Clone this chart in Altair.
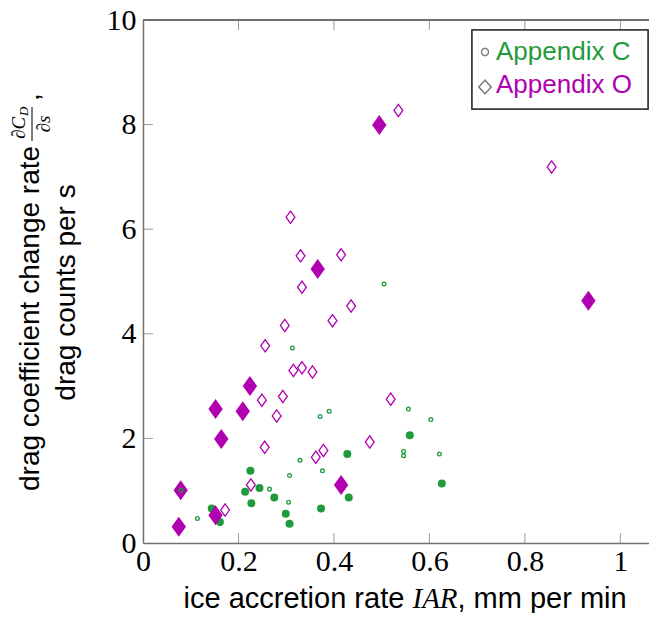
import altair as alt
import pandas as pd

# ---------------- data ----------------
c_filled_x = [0.225, 0.244, 0.214, 0.275, 0.227, 0.299, 0.307, 0.373, 0.161, 0.144, 0.559, 0.428, 0.431, 0.626]
c_filled_y = [1.38, 1.05, 0.98, 0.87, 0.76, 0.56, 0.37, 0.66, 0.40, 0.66, 2.06, 1.70, 0.87, 1.14]

c_hollow_x = [0.505, 0.313, 0.371, 0.390, 0.329, 0.307, 0.376, 0.265, 0.305, 0.114, 0.080, 0.556, 0.603, 0.546, 0.546, 0.621]
c_hollow_y = [4.95, 3.73, 2.42, 2.52, 1.58, 1.29, 1.38, 1.03, 0.78, 0.47, 1.01, 2.56, 2.36, 1.75, 1.67, 1.70]

o_filled_x = [0.224, 0.152, 0.209, 0.164, 0.079, 0.152, 0.075, 0.415, 0.495, 0.366, 0.933]
o_filled_y = [3.00, 2.56, 2.52, 1.99, 1.01, 0.53, 0.31, 1.11, 7.99, 5.24, 4.63]

o_hollow_x = [0.535, 0.309, 0.330, 0.415, 0.333, 0.436, 0.397, 0.297, 0.856, 0.256, 0.315, 0.333,
              0.355, 0.249, 0.293, 0.280, 0.255, 0.362, 0.378, 0.226, 0.172, 0.519, 0.475]
o_hollow_y = [8.27, 6.23, 5.49, 5.51, 4.89, 4.53, 4.25, 4.16, 7.19, 3.77, 3.30, 3.35,
              3.27, 2.73, 2.80, 2.43, 1.83, 1.64, 1.77, 1.11, 0.63, 2.75, 1.93]

x_ticks = [0, 0.2, 0.4, 0.6, 0.8, 1]
y_ticks = [0, 2, 4, 6, 8, 10]
legend_labels = ["Appendix C", "Appendix O"]

x_title_parts = ["ice accretion rate ", "IAR", ", mm per min"]
y_title_line1 = "drag coefficient change rate"
y_frac_num = ["\u2202C", "D"]
y_frac_den = "\u2202s"
y_title_line2 = "drag counts per s"

# ---------------- style ----------------
W, H = 506, 523
XMAX = 1.060
GREEN = "#1f9b3b"
MAG = "#b000b0"
AXC = "#707070"
TICKC = "#999999"
DIAMOND = "M0,-1L0.72,0L0,1L-0.72,0Z"
LDIAMOND = "M0,-1L0.9,0L0,1L-0.9,0Z"
SERIF = "Liberation Serif"
SANS = "Liberation Sans"

xs = alt.Scale(domain=[0, XMAX], nice=False, zero=False)
ys = alt.Scale(domain=[0, 10], nice=False, zero=False)

x_axis = alt.Axis(values=x_ticks, ticks=False, grid=False, domainColor=AXC, domainWidth=1.5,
                  labelFont=SERIF, labelFontSize=30, labelColor="black", labelPadding=3,
                  labelFlush=False, labelOverlap=False, labelExpr="'' + datum.value",
                  title=None)
y_axis = alt.Axis(values=y_ticks, ticks=False, grid=False, domainColor=AXC, domainWidth=1.5,
                  labelFont=SERIF, labelFontSize=30, labelColor="black", labelPadding=7,
                  labelFlush=False, labelOverlap=False, labelExpr="'' + datum.value",
                  title=y_title_line2, titleFont=SANS, titleFontSize=28, titleFontWeight="normal",
                  titleColor="black", titleAngle=270, titleX=-77, titleY=272,
                  titleAlign="center", titleBaseline="middle")


def X():
    return alt.X("x:Q", scale=xs, axis=x_axis)


def Y():
    return alt.Y("y:Q", scale=ys, axis=y_axis)


def df(xv, yv):
    return pd.DataFrame({"x": xv, "y": yv})


def txt(s, x, y, **kw):
    return alt.Chart(pd.DataFrame({"t": [s]})).mark_text(**kw).encode(
        text="t:N", x=alt.value(x), y=alt.value(y))


green_filled = alt.Chart(df(c_filled_x, c_filled_y)).mark_point(
    shape="circle", filled=True, color=GREEN, size=64, opacity=1).encode(x=X(), y=Y())
mag_filled = alt.Chart(df(o_filled_x, o_filled_y)).mark_point(
    shape=DIAMOND, filled=True, color=MAG, size=400, opacity=1).encode(x=X(), y=Y())
mag_hollow = alt.Chart(df(o_hollow_x, o_hollow_y)).mark_point(
    shape=DIAMOND, filled=False, color=MAG, size=150, strokeWidth=1.3, opacity=1).encode(x=X(), y=Y())
green_hollow = alt.Chart(df(c_hollow_x, c_hollow_y)).mark_point(
    shape="circle", filled=False, color=GREEN, size=14, strokeWidth=1.3, opacity=1).encode(x=X(), y=Y())

# inward ticks and frame top
xt = pd.DataFrame({"x": x_ticks[1:]})
yt = pd.DataFrame({"y": y_ticks[1:-1]})
tick_bottom = alt.Chart(xt).mark_rule(color=TICKC, strokeWidth=1).encode(
    x=X(), y=alt.value(H), y2=alt.value(H - 10))
tick_top = alt.Chart(xt).mark_rule(color=TICKC, strokeWidth=1).encode(
    x=X(), y=alt.value(0), y2=alt.value(10))
tick_left = alt.Chart(yt).mark_rule(color=TICKC, strokeWidth=1).encode(
    y=Y(), x=alt.value(0), x2=alt.value(10))
top_line = alt.Chart(xt).mark_rule(color=AXC, strokeWidth=1.5).encode(
    x=alt.value(0), x2=alt.value(W), y=alt.value(0))

# x title (mixed fonts)
XT_Y = H + 65
xt1 = txt(x_title_parts[0], 40.5, XT_Y, font=SANS, fontSize=29, color="black", align="left", baseline="alphabetic")
xt2 = txt(x_title_parts[1], 269.5, XT_Y, font=SERIF, fontSize=29, fontStyle="italic", color="black", align="left", baseline="alphabetic")
xt3 = txt(x_title_parts[2], 314.5, XT_Y, font=SANS, fontSize=29, color="black", align="left", baseline="alphabetic")

# y title line 1 with stacked fraction
yl1 = txt(y_title_line1, -112, 471, font=SANS, fontSize=28, color="black", align="left", baseline="middle", angle=270)
num1 = txt(y_frac_num[0], -124, 119, font=SERIF, fontSize=19, fontStyle="italic", color="black", align="left", baseline="middle", angle=270)
num2 = txt(y_frac_num[1], -119, 96, font=SERIF, fontSize=13, fontStyle="italic", color="black", align="left", baseline="middle", angle=270)
frac_bar = alt.Chart(pd.DataFrame({"t": [0]})).mark_rule(color="black", strokeWidth=1).encode(
    x=alt.value(-111), y=alt.value(87), y2=alt.value(121))
den = txt(y_frac_den, -99, 104, font=SERIF, fontSize=19, fontStyle="italic", color="black", align="center", baseline="middle", angle=270)
comma = txt(",", -112, 81, font=SANS, fontSize=28, color="black", align="left", baseline="middle", angle=270)

# legend
leg_df = pd.DataFrame({"label": legend_labels})
leg_box = alt.Chart(leg_df).mark_rect(fill="white", stroke="#333333", strokeWidth=1.5).encode(
    x=alt.value(329), x2=alt.value(505), y=alt.value(10), y2=alt.value(89))
leg_c_sym = alt.Chart(leg_df).mark_point(shape="circle", filled=False, color="#808080",
                                         size=50, strokeWidth=1.2, opacity=1).encode(
    x=alt.value(342), y=alt.value(32))
leg_o_sym = alt.Chart(leg_df).mark_point(shape=LDIAMOND, filled=False, color="#808080",
                                         size=190, strokeWidth=1.2, opacity=1).encode(
    x=alt.value(342), y=alt.value(67))
leg_c_txt = txt(legend_labels[0], 353, 39.5, font=SANS, fontSize=26, color=GREEN, align="left", baseline="alphabetic")
leg_o_txt = txt(legend_labels[1], 353, 73, font=SANS, fontSize=26, color=MAG, align="left", baseline="alphabetic")

chart = alt.layer(
    green_filled, mag_filled, mag_hollow, green_hollow,
    tick_bottom, tick_top, tick_left, top_line,
    xt1, xt2, xt3, yl1, num1, num2, frac_bar, den, comma,
    leg_box, leg_c_sym, leg_o_sym, leg_c_txt, leg_o_txt,
).properties(
    width=W, height=H,
    autosize=alt.AutoSizeParams(type="none"),
    padding={"left": 135, "top": 12, "right": 0, "bottom": 70},
    background="white",
).configure_view(stroke=None)

chart.save("out.html", embed_options={"renderer": "svg", "actions": False})
